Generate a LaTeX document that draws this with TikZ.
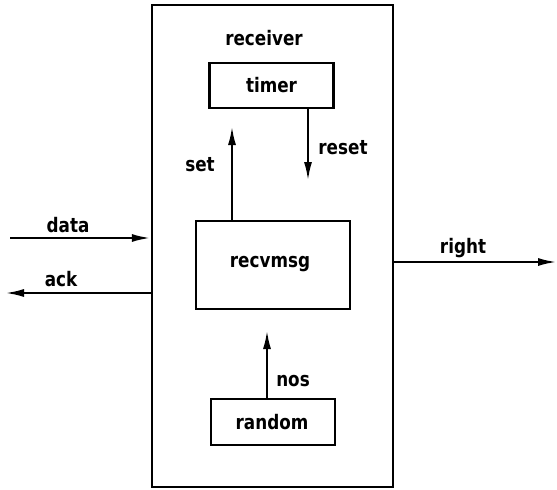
\documentclass[tikz,border=0pt]{standalone}
\usepackage{fontspec}
\setmainfont{DejaVu Sans}
\newfontfamily\lblfont{DejaVu Sans Bold}[FakeStretch=0.84]
\usetikzlibrary{arrows.meta}
\begin{document}
\begin{tikzpicture}[x=1pt,y=-1pt,
  box/.style={draw,line width=2.4pt,rectangle,inner sep=0pt},
  lbl/.style={font=\lblfont\fontsize{20}{20}\selectfont,inner sep=0pt},
  arr/.style={line width=2.4pt,-{Latex[length=19pt,width=8pt]}}]
\useasboundingbox (0,0) rectangle (557,490);
\node[box,minimum width=241pt,minimum height=482pt] (outer) at (272.5,246) {};
\node[box,minimum width=124pt,minimum height=45pt] (timer) at (271.5,85.5) {};
\node[box,minimum width=154pt,minimum height=88pt] (recv) at (273,265) {};
\node[box,minimum width=124pt,minimum height=46pt] (random) at (273,422) {};
\node[lbl] (treceiver) at (264,38) {receiver};
\node[lbl] (ttimer) at (271.5,85) {timer};
\node[lbl] (trecv) at (270,264) {recvmsg};
\node[lbl] (trandom) at (272,422) {random};
\node[lbl] (tset) at (200,165) {set};
\node[lbl] (treset) at (343,148) {reset};
\node[lbl] (tnos) at (293,381) {nos};
\node[lbl] (tdata) at (68,225) {data};
\node[lbl] (tack) at (61,279) {ack};
\node[lbl] (tright) at (463,248) {right};
\coordinate (setend) at (232,126);
\coordinate (resetend) at (308,181);
\coordinate (nosend) at (267,330);
\coordinate (datastart) at (10,238);
\coordinate (ackend) at (5,293);
\coordinate (rightend) at (557,262);
\draw[arr] (recv.north -| setend) -- (setend);
\draw[arr] (timer.south -| resetend) -- (resetend);
\draw[arr] (random.north -| nosend) -- (nosend);
\draw[arr] (datastart) -- (outer.west |- datastart);
\draw[arr] (outer.west |- ackend) -- (ackend);
\draw[arr] (outer.east |- rightend) -- (rightend);
\end{tikzpicture}
\end{document}
